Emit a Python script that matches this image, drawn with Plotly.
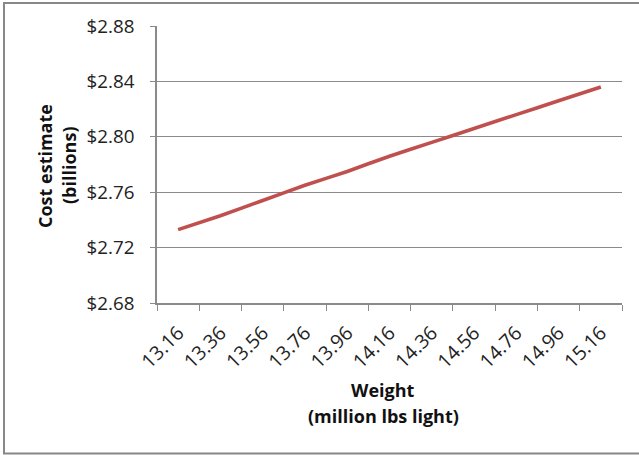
import plotly.graph_objects as go

# Weight categories (million lbs light) and the matching cost estimates ($ billions)
weights = ["13.16", "13.36", "13.56", "13.76", "13.96", "14.16",
           "14.36", "14.56", "14.76", "14.96", "15.16"]
cost_billions = [2.733, 2.743, 2.754, 2.765, 2.775, 2.786,
                 2.796, 2.806, 2.816, 2.826, 2.836]

y_ticks = [2.68, 2.72, 2.76, 2.80, 2.84, 2.88]
y_tick_text = [f"${v:.2f}" for v in y_ticks]

W, H = 639, 455
ML, MR, MT, MB = 157, 17, 26, 152
PW, PH = W - ML - MR, H - MT - MB


def px_x(x):
    return (x - ML) / PW


def px_y(y):
    return (H - MB - y) / PH


grid = "#8a8a8a"
font = "Open Sans"

fig = go.Figure(
    go.Scatter(
        x=weights,
        y=cost_billions,
        mode="lines",
        line=dict(color="#C0504D", width=3.6, shape="spline", smoothing=0.4),
        hoverinfo="x+y",
    )
)

fig.update_layout(
    width=W,
    height=H,
    margin=dict(l=ML, r=MR, t=MT, b=MB),
    paper_bgcolor="white",
    plot_bgcolor="white",
    showlegend=False,
    font=dict(family=font, color="#222222"),
    xaxis=dict(
        type="category",
        range=[-0.5, len(weights) - 0.5],
        tickson="boundaries",
        ticks="outside",
        ticklen=6,
        tickwidth=1,
        tickcolor=grid,
        showline=True,
        linecolor=grid,
        linewidth=1.5,
        showgrid=False,
        tickangle=-45,
        tickfont=dict(family=font, size=19.5, color="#222222"),
        ticklabelstandoff=9,
    ),
    yaxis=dict(
        range=[2.68, 2.88],
        tickvals=y_ticks,
        ticktext=y_tick_text,
        ticks="outside",
        ticklen=5,
        tickwidth=1,
        tickcolor=grid,
        showline=True,
        linecolor=grid,
        linewidth=1.5,
        showgrid=True,
        gridcolor=grid,
        gridwidth=1.3,
        zeroline=False,
        tickfont=dict(family=font, size=18.8, color="#222222"),
        ticklabelstandoff=12,
    ),
)

# Axis titles, one annotation per line
title_font = dict(family=font, size=18, color="#111111")
for text, x, y in [("Weight", 383, 390), ("(million lbs light)", 383, 416)]:
    fig.add_annotation(
        xref="paper", yref="paper", x=px_x(x), y=px_y(y),
        text=f"<b>{text}</b>", showarrow=False, font=title_font,
        xanchor="center", yanchor="middle",
    )
for text, x, y in [("Cost estimate", 45, 166), ("(billions)", 69, 166)]:
    fig.add_annotation(
        xref="paper", yref="paper", x=px_x(x), y=px_y(y),
        text=f"<b>{text}</b>", showarrow=False, font=title_font,
        textangle=-90, xanchor="center", yanchor="middle",
    )

# Chart-area border
fig.add_shape(
    type="rect", xref="paper", yref="paper",
    x0=px_x(4), x1=px_x(660), y0=px_y(453.5), y1=px_y(3),
    line=dict(color="#888888", width=2), fillcolor="rgba(0,0,0,0)",
    layer="below",
)

fig.write_html("out.html")
